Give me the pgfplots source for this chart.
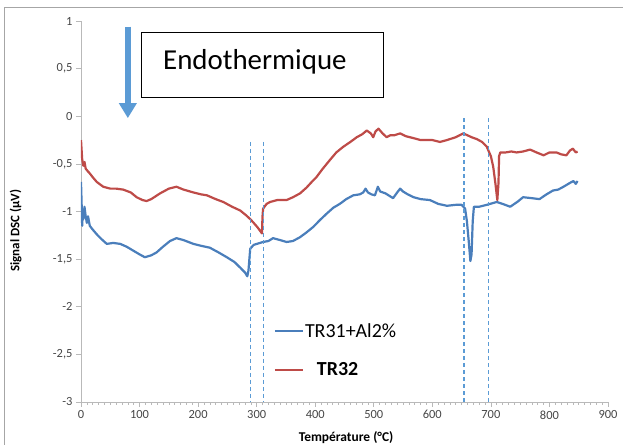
\documentclass[border=0pt]{standalone}
\usepackage{fontspec}
\setmainfont{Carlito}
\usepackage{pgfplots}
\pgfplotsset{compat=1.18}
\usetikzlibrary{arrows.meta}
\definecolor{serblue}{RGB}{74,126,187}
\definecolor{serred}{RGB}{190,75,72}
\definecolor{dashblue}{RGB}{91,155,213}
\definecolor{tickgray}{RGB}{70,70,70}
\begin{document}
\begin{tikzpicture}
\begin{axis}[
  scale only axis,
  width=527bp, height=381bp,
  xmin=0, xmax=900, ymin=-3, ymax=1,
  axis x line=bottom, axis y line=left,
  axis line style={-, draw=gray!55, line width=0.8bp},
  xtick distance=100, minor x tick num=9,
  ytick={-3,-2.5,...,1},
  tick align=outside,
  major tick length=5bp, minor tick length=3bp,
  tick style={draw=gray!55, line width=0.6bp},
  every tick label/.style={font=\fontsize{12.5}{14}\selectfont, text=tickgray},
  /pgf/number format/assume math mode=true,
  /pgf/number format/use comma,
  xlabel={\textbf{Température (°C)}},
  ylabel={\textbf{Signal DSC (µV)}},
  xlabel style={at={(axis description cs:0.503,0)}, anchor=center, yshift=-36bp, font=\fontsize{13.5}{15}\selectfont},
  ylabel style={at={(axis description cs:-0.124,0.45)}, anchor=center, font=\fontsize{13}{15}\selectfont},
  legend style={draw=none, fill=none, at={(axis cs:329,-2.16)}, anchor=north west,
    font=\fontsize{20}{24}\selectfont, row sep=22bp, inner sep=0pt,
    nodes={inner sep=1bp}},
  legend cell align=left,
  legend image code/.code={\draw[#1] (0bp,0bp) -- (28bp,0bp);},
]
\addplot[serblue, line width=2.2bp, line join=round] coordinates {
(0,-0.69) (1,-0.9) (2,-1.15) (3,-1.02) (4,-1.08) (6,-0.95) (8,-1.05) (10,-1.12) (12,-1.05) (15,-1.15) (20,-1.19) (27,-1.24) (35,-1.29) (44,-1.34) (55,-1.33) (67,-1.34) (78,-1.37) (89,-1.41) (100,-1.45) (109,-1.48) (120,-1.46) (129,-1.43) (140,-1.37) (152,-1.31) (163,-1.28) (175,-1.30) (192,-1.34) (205,-1.36) (220,-1.38) (235,-1.43) (249,-1.48) (262,-1.53) (272,-1.59) (280,-1.64) (284,-1.68) (286,-1.62) (289,-1.39) (295,-1.35) (311,-1.32) (320,-1.31) (328,-1.28) (340,-1.30) (351,-1.32) (362,-1.31) (374,-1.27) (385,-1.22) (397,-1.16) (408,-1.09) (420,-1.02) (431,-0.96) (442,-0.92) (453,-0.87) (465,-0.83) (476,-0.82) (482,-0.80) (486,-0.76) (490,-0.80) (496,-0.82) (502,-0.83) (507,-0.74) (511,-0.79) (520,-0.81) (533,-0.86) (540,-0.80) (545,-0.76) (550,-0.79) (558,-0.82) (568,-0.85) (580,-0.87) (596,-0.88) (610,-0.92) (625,-0.94) (640,-0.93) (650,-0.93) (656,-0.97) (659,-1.10) (662,-1.30) (665,-1.52) (667,-1.45) (669,-1.10) (671,-0.95) (680,-0.95) (693,-0.93) (710,-0.90) (720,-0.92) (733,-0.95) (745,-0.90) (755,-0.85) (770,-0.86) (783,-0.87) (795,-0.82) (806,-0.78) (815,-0.77) (824,-0.74) (835,-0.70) (841,-0.68) (845,-0.71) (848,-0.68)
};
\addlegendentry{TR31+Al2\%}
\addplot[serred, line width=2.2bp, line join=round] coordinates {
(0,-0.25) (1,-0.35) (2,-0.45) (4,-0.52) (6,-0.48) (8,-0.55) (12,-0.58) (15,-0.60) (20,-0.64) (27,-0.69) (38,-0.74) (50,-0.76) (60,-0.76) (72,-0.77) (85,-0.80) (95,-0.85) (105,-0.88) (112,-0.89) (120,-0.87) (135,-0.81) (150,-0.76) (163,-0.74) (175,-0.77) (192,-0.80) (205,-0.82) (215,-0.83) (230,-0.87) (243,-0.90) (258,-0.95) (272,-0.99) (282,-1.04) (289,-1.08) (295,-1.12) (302,-1.17) (309,-1.23) (310,-1.05) (311,-0.97) (317,-0.92) (323,-0.90) (335,-0.88) (351,-0.88) (362,-0.85) (374,-0.81) (385,-0.75) (394,-0.69) (402,-0.64) (413,-0.55) (425,-0.46) (436,-0.38) (448,-0.32) (460,-0.27) (471,-0.22) (480,-0.19) (488,-0.15) (495,-0.18) (499,-0.22) (503,-0.16) (508,-0.13) (515,-0.18) (522,-0.22) (528,-0.20) (535,-0.20) (545,-0.18) (555,-0.21) (568,-0.23) (580,-0.25) (590,-0.25) (600,-0.25) (613,-0.27) (625,-0.25) (640,-0.22) (653,-0.18) (660,-0.20) (667,-0.22) (676,-0.24) (685,-0.27) (693,-0.32) (700,-0.42) (704,-0.53) (708,-0.72) (711,-0.88) (713,-0.70) (714,-0.42) (716,-0.38) (725,-0.38) (735,-0.37) (744,-0.38) (755,-0.37) (767,-0.35) (778,-0.38) (790,-0.41) (800,-0.38) (812,-0.38) (820,-0.40) (829,-0.41) (835,-0.36) (840,-0.34) (845,-0.38) (848,-0.37)
};
\addlegendentry{\hspace{0.6em}\textbf{TR32}}
\addplot[dashblue, line width=1.3bp, dash pattern=on 4bp off 3bp, forget plot] coordinates {(290,-0.27) (290,-3)};
\addplot[dashblue, line width=1.3bp, dash pattern=on 4bp off 3bp, forget plot] coordinates {(312,-0.27) (312,-3)};
\addplot[dashblue, line width=1.3bp, dash pattern=on 4bp off 3bp, forget plot] coordinates {(654,-0.02) (654,-3)};
\addplot[dashblue, line width=1.3bp, dash pattern=on 4bp off 3bp, forget plot] coordinates {(696,-0.02) (696,-3)};
\draw[dashblue, line width=6bp, -{Triangle[width=17bp,length=15bp]}] (axis cs:80,0.94) -- (axis cs:80,-0.02);
\draw[black, line width=0.8bp] (axis cs:104,0.884) rectangle (axis cs:517,0.2);
\node[anchor=center, font=\fontsize{29}{33}\selectfont] at (axis cs:297,0.57) {Endothermique};
\end{axis}
\draw[gray!70, line width=1bp] (-76bp,-60bp) -- (-76bp,394bp) -- (560bp,394bp);
\pgfresetboundingbox
\useasboundingbox (-81bp,-43bp) rectangle (542bp,402bp);
\end{tikzpicture}
\end{document}
